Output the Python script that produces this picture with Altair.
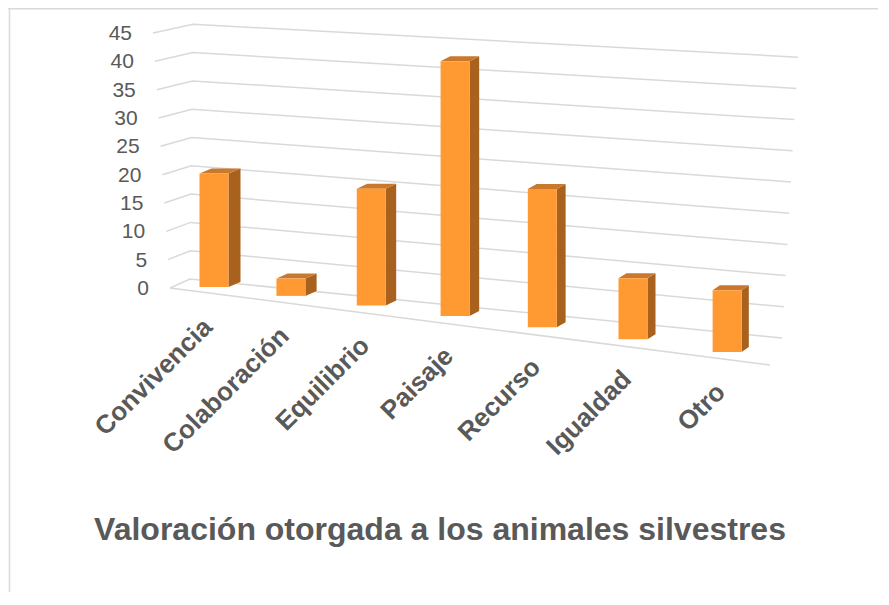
import altair as alt
import pandas as pd

# ---------------- data ----------------
categories = ["Convivencia", "Colaboración", "Equilibrio", "Paisaje", "Recurso", "Igualdad", "Otro"]
values = [20, 3, 20, 43, 23, 10, 10]
y_ticks = [0, 5, 10, 15, 20, 25, 30, 35, 40, 45]
title_text = "Valoración otorgada a los animales silvestres"

# ---------------- simple perspective projection of the 3-D scene ----------------
W, H = 870, 584          # plot area (whole chart, no axes)
PX = 5.667               # px per value unit on the left wall
Y_TOP = 49.41            # value unit at the top edge of the plot
y_dom = [Y_TOP - H / PX, Y_TOP]
TMAX = max(y_ticks)


def vy(py):
    """pixel row inside the plot -> value unit of the y scale"""
    return Y_TOP - py / PX


# back/side wall gridlines (one polyline per tick) + floor front edge
grid_rows, ylab_rows = [], []
for v in y_ticks:
    t = v / TMAX
    pts = [(162 - 17 * t, 280 - PX * v),
           (182 + 3 * t, 271 - 5.66 * v),
           (774 + 16 * t, 330 - 6.24 * v)]
    for o, (px_, py_) in enumerate(pts):
        grid_rows.append({"s": f"g{v}", "o": o, "x": px_, "y": vy(py_)})
    ylab_rows.append({"x": pts[0][0] - 21, "y": vy(pts[0][1] + 1), "t": str(v)})
grid_rows.append({"s": "floor", "o": 0, "x": 162, "y": vy(280)})
grid_rows.append({"s": "floor", "o": 1, "x": 762, "y": vy(357)})
grid_df = pd.DataFrame(grid_rows)
ylab_df = pd.DataFrame(ylab_rows)

front_rows, side_rows, top_rows, xlab_rows = [], [], [], []
for i, (cat, h) in enumerate(zip(categories, values)):
    xc = 206 + 75.2 * i + 1.72 * i * i      # column centre
    yb = 279 + 8.5 * i + 0.389 * i * i       # column foot
    k = 5.68 + 0.082 * i                     # px per unit at that depth
    yt = yb - k * h                          # column top
    x0, x1 = xc - 14.5, xc + 14.5
    dx, dy = 12 - 0.8 * i, -5
    front_rows.append({"c": cat, "x": x0, "x2": x1, "y": vy(yt), "y2": vy(yb)})
    side_rows += [
        {"c": cat, "x": x1, "y": vy(yt), "y2": vy(yb)},
        {"c": cat, "x": x1 + dx, "y": vy(yt + dy), "y2": vy(yb + dy)},
    ]
    top_rows += [
        {"c": cat, "x": x0, "y": vy(yt), "y2": vy(yt)},
        {"c": cat, "x": x0 + dx, "y": vy(yt + dy), "y2": vy(yt)},
        {"c": cat, "x": x1, "y": vy(yt + dy), "y2": vy(yt)},
        {"c": cat, "x": x1 + dx, "y": vy(yt + dy), "y2": vy(yt + dy)},
    ]
    xlab_rows.append({"c": cat, "x": xc - 6, "y": vy(yb + 36)})

front_df = pd.DataFrame(front_rows)
side_df = pd.DataFrame(side_rows)
top_df = pd.DataFrame(top_rows)
xlab_df = pd.DataFrame(xlab_rows)

xs = alt.Scale(domain=[0, W], nice=False, zero=False)
ys = alt.Scale(domain=y_dom, nice=False, zero=False)
X = lambda f="x": alt.X(f"{f}:Q", scale=xs, axis=None)
Y = lambda f="y": alt.Y(f"{f}:Q", scale=ys, axis=None)

FONT = "Liberation Sans"
TXT = "#595959"

grid = alt.Chart(grid_df).mark_line(color="#D9D9D9", strokeWidth=1.5).encode(
    x=X(), y=Y(), detail="s:N", order="o:Q")

ylab = alt.Chart(ylab_df).mark_text(
    align="right", baseline="middle", fontSize=21, font=FONT, color=TXT
).encode(x=X(), y=Y(), text="t:N")

side = alt.Chart(side_df).mark_area(orient="vertical", color="#A9611E").encode(
    x=X(), y=Y(), y2="y2:Q", detail="c:N")

top = alt.Chart(top_df).mark_area(orient="vertical", color="#C9782C").encode(
    x=X(), y=Y(), y2="y2:Q", detail="c:N")

front = alt.Chart(front_df).mark_rect(color="#FF9A33").encode(
    x=X(), x2="x2:Q", y=Y(), y2="y2:Q")

xlab = alt.Chart(xlab_df).mark_text(
    angle=315, align="right", baseline="middle", fontSize=26,
    fontWeight="bold", font=FONT, color=TXT
).encode(x=X(), y=Y(), text="c:N")

title = alt.Chart(pd.DataFrame({"t": [title_text]})).mark_text(
    align="center", baseline="alphabetic", fontSize=32, fontWeight="bold",
    font=FONT, color=TXT
).encode(x=alt.value(432), y=alt.value(532), text="t:N")

border_top = alt.Chart(pd.DataFrame({"a": [0]})).mark_rule(
    color="#D9D9D9", strokeWidth=1.5
).encode(x=alt.value(0), x2=alt.value(W), y=alt.value(0.75))
border_left = alt.Chart(pd.DataFrame({"a": [0]})).mark_rule(
    color="#D9D9D9", strokeWidth=1.5
).encode(x=alt.value(1.5), y=alt.value(0), y2=alt.value(H))

chart = alt.layer(
    border_top, border_left, grid, ylab, side, top, front, xlab, title
).properties(
    width=W, height=H, padding=0,
    autosize=alt.AutoSizeParams(type="none"),
).configure_view(strokeWidth=0)

chart.save("out.html", embed_options={"renderer": "svg", "actions": False})
